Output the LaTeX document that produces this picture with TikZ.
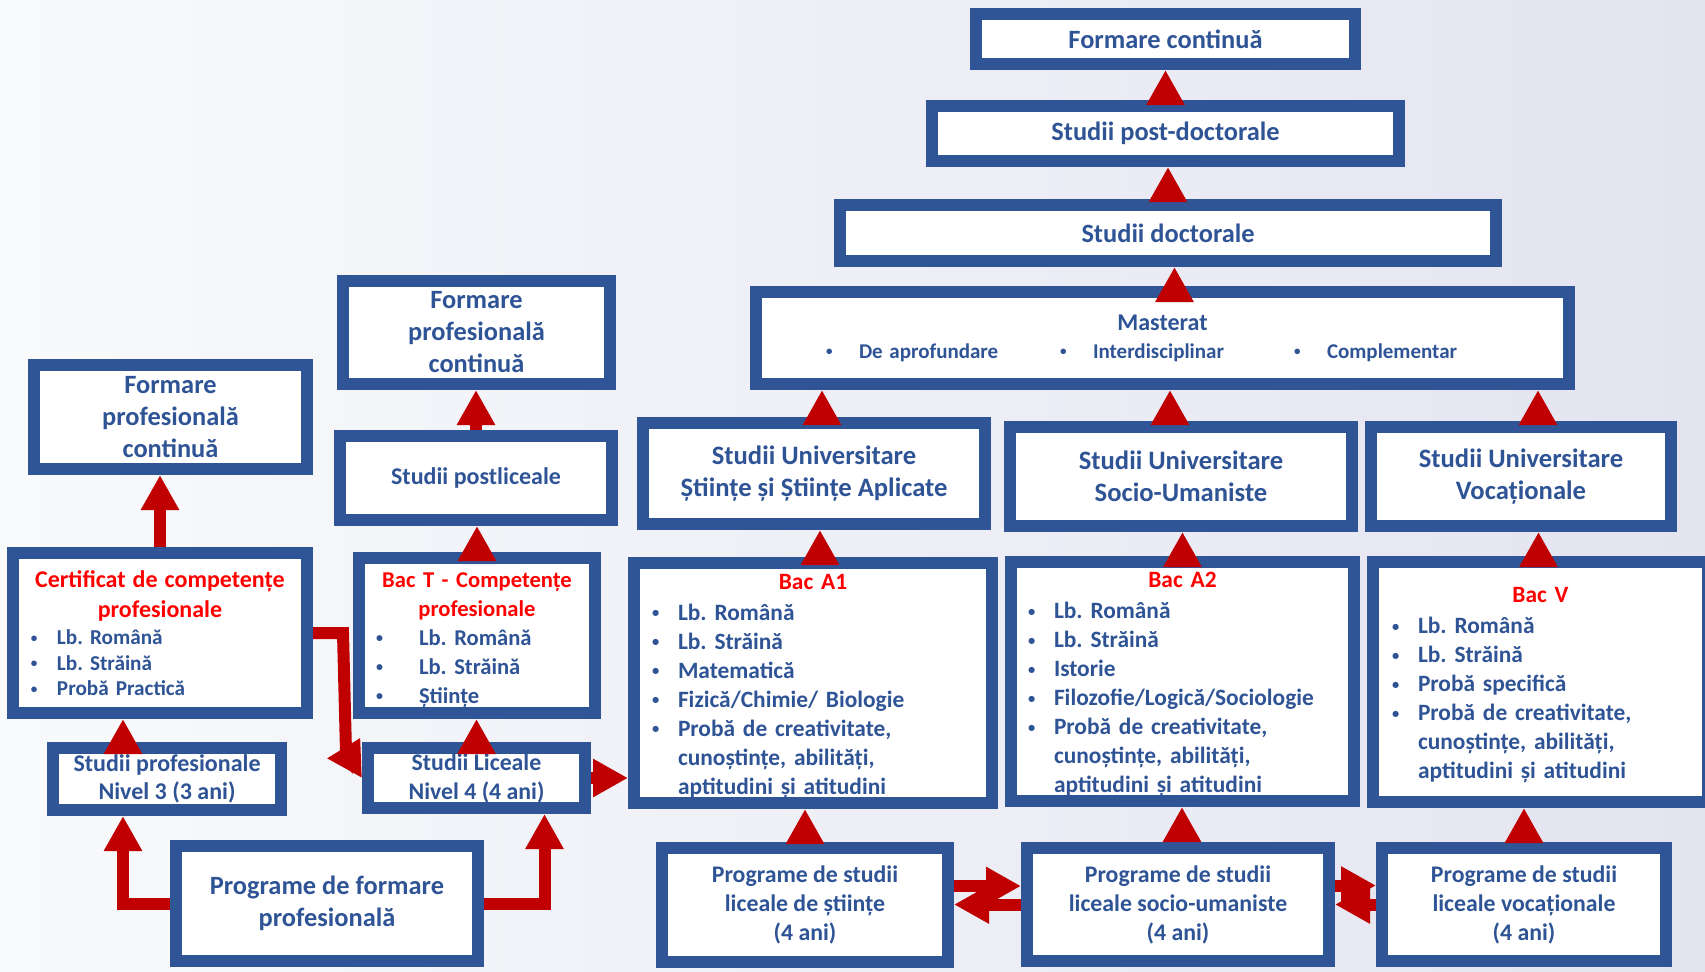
\documentclass[tikz,border=0pt]{standalone}
\usepackage{fontspec}
\usepackage{graphicx}
\setmainfont{Carlito}
\usetikzlibrary{arrows.meta,positioning}
\definecolor{bord}{HTML}{2F5597}
\definecolor{btxt}{HTML}{2F5496}
\definecolor{ared}{HTML}{C00000}
\definecolor{tred}{HTML}{FF0000}
\definecolor{bgl}{HTML}{F9FAFC}
\definecolor{bgr}{HTML}{E3E4F0}
\frenchspacing
\newcommand{\fsz}[2]{\bfseries\fontsize{#1}{#2}\selectfont}
\newcommand{\bul}[1][13pt]{\makebox[#1][l]{\raisebox{0.12em}{\scalebox{0.62}{\textbullet}}}}
\newcommand{\ind}[1][13pt]{\hspace*{#1}}
\newcommand{\ttl}[1]{\makebox[\linewidth]{\textcolor{tred}{#1}}}

\begin{document}
\begin{tikzpicture}[x=0.5pt, y=-0.5pt,
  box/.style = {draw=bord, line width=6pt, fill=white, inner sep=0pt, align=center, text=btxt},
  up/.style = {draw=ared, line width=6pt, -{Triangle[width=18pt,length=17.5pt]}}]
  \useasboundingbox (0,0) rectangle (1705,971);
  \shade[left color=bgl, right color=bgr] (0,0) rectangle (1705,971);

  % doctoral side
  \node[box, minimum width=189.5pt, minimum height=25pt, font=\fsz{13.2}{16}] (fc) at (1165.5,39) {Formare continuă};
  \node[box, minimum width=233.5pt, minimum height=27.5pt, font=\fsz{13.2}{16}] (pd) at (1165.5,133.5) {Studii post-doctorale};
  \node[box, minimum width=328pt, minimum height=28pt, font=\fsz{13.2}{16}] (d) at (1168,233) {Studii doctorale};
  \node[box, minimum width=406.5pt, minimum height=46pt, align=left, text width=336.5pt] (ma) at (1162.5,338)
    {\fsz{12}{15}\makebox[\linewidth]{Masterat}\\[2pt]
     \fsz{10.5}{15}\makebox[117pt][l]{\bul[16.5pt]De aprofundare}\makebox[117pt][l]{\bul[16.5pt]Interdisciplinar}\bul[16.5pt]Complementar};
  \node[box, minimum width=171pt, minimum height=50.5pt, font=\fsz{13.3}{16}] (u1) at (814,473.5) {Studii Universitare\\Științe și Științe Aplicate};
  \node[box, minimum width=171pt, minimum height=49.5pt, font=\fsz{13.3}{16}] (u2) at (1181,476.5) {Studii Universitare\\Socio-Umaniste};
  \node[box, minimum width=150pt, minimum height=49.5pt, font=\fsz{13.3}{16}] (u3) at (1521,476.5) {Studii Universitare\\Vocaționale};

  % bac boxes
  \node[box, minimum width=179pt, minimum height=120pt, align=left, text width=161pt, font=\fsz{11.7}{14.5}] (a1) at (813,683)
    {\ttl{\rule{0pt}{11pt}Bac A1}\\[1pt] \bul Lb. Română\\ \bul Lb. Străină\\ \bul Matematică\\ \bul Fizică/Chimie/ Biologie\\
     \bul Probă de creativitate,\\ \ind cunoștințe, abilități,\\ \ind aptitudini și atitudini};
  \node[box, minimum width=171.5pt, minimum height=119.5pt, align=left, text width=154.5pt, font=\fsz{11.7}{14.5}] (a2) at (1182.5,681.5)
    {\ttl{\rule{0pt}{11pt}Bac A2}\\[1pt] \bul Lb. Română\\ \bul Lb. Străină\\ \bul Istorie\\ \bul Filozofie/Logică/Sociologie\\
     \bul Probă de creativitate,\\ \ind cunoștințe, abilități,\\ \ind aptitudini și atitudini};
  \node[box, minimum width=167.5pt, minimum height=120pt, align=left, text width=148.5pt, font=\fsz{11.7}{14.5}] (v) at (1540.5,682)
    {\ttl{\rule{0pt}{11pt}Bac V}\\[1pt] \bul Lb. Română\\ \bul Lb. Străină\\ \bul Probă specifică\\
     \bul Probă de creativitate,\\ \ind cunoștințe, abilități,\\ \ind aptitudini și atitudini};

  % programe de studii
  \node[box, minimum width=143pt, minimum height=57pt, font=\fsz{11.9}{14.5}] (ps) at (805,905) {Programe de studii\\liceale de științe\\(4 ani)};
  \node[box, minimum width=151pt, minimum height=56.5pt, font=\fsz{11.9}{14.5}] (psu) at (1178,904.5) {Programe de studii\\liceale socio-umaniste\\(4 ani)};
  \node[box, minimum width=142pt, minimum height=56.5pt, font=\fsz{11.9}{14.5}] (pv) at (1524,904.5) {Programe de studii\\liceale vocaționale\\(4 ani)};

  % vocational side
  \node[box, minimum width=133.5pt, minimum height=51.5pt, font=\fsz{13.2}{16}] (fpc) at (476.5,332.5) {Formare\\profesională\\continuă};
  \node[box, minimum width=136pt, minimum height=42pt, font=\fsz{12}{14}] (pl) at (476,478) {Studii postliceale};
  \node[box, minimum width=118pt, minimum height=77.5pt, align=left, text width=101pt, font=\fsz{11.3}{14.5}] (bt) at (477,635.5)
    {\ttl{\rule{0pt}{12pt}Bac T - Competențe}\\ \ttl{profesionale}\\ \bul[21.5pt]Lb. Română\\ \bul[21.5pt]Lb. Străină\\ \bul[21.5pt]Științe};
  \node[box, minimum width=108.5pt, minimum height=30pt, font=\fsz{11.9}{14.5}] (lic) at (476.5,778) {Studii Liceale\\Nivel 4 (4 ani)};
  \node[box, minimum width=151pt, minimum height=57.5pt, font=\fsz{13.2}{16}] (pf) at (327,903.5) {Programe de formare\\profesională};
  \node[box, minimum width=114pt, minimum height=31pt, font=\fsz{12}{14}] (sp) at (167,779) {Studii profesionale\\Nivel 3 (3 ani)};
  \node[box, minimum width=147pt, minimum height=80pt, align=left, text width=129pt, font=\fsz{10.6}{12.75}] (cert) at (160,633)
    {\fsz{12}{14}\ttl{Certificat de competențe}\\[1.25pt] \ttl{profesionale}\\[0.75pt]
     \fsz{10.6}{12.75}\bul Lb. Română\\ \bul Lb. Străină\\ \bul Probă Practică};
  \node[box, minimum width=136.5pt, minimum height=52pt, font=\fsz{13.2}{16}] (fl) at (170.5,417) {Formare\\profesională\\continuă};

  % arrows
  \draw[up] (pd) -- (fc);
  \draw[up] (d.north) -- (d.north |- pd.south);
  \draw[up] ([xshift=6pt]ma.north) -- ([xshift=6pt]ma.north |- d.south);
  \draw[up] ([xshift=4pt]u1.north) -- ([xshift=4pt]u1.north |- ma.south);
  \draw[up] ([xshift=-5.5pt]u2.north) -- ([xshift=-5.5pt]u2.north |- ma.south);
  \draw[up] ([xshift=8.5pt]u3.north) -- ([xshift=8.5pt]u3.north |- ma.south);
  \draw[up] ([xshift=3.5pt]a1.north) -- ([xshift=3.5pt]a1.north |- u1.south);
  \draw[up] (a2.north) -- (a2.north |- u2.south);
  \draw[up] ([xshift=-1pt]v.north) -- ([xshift=-1pt]v.north |- u3.south);
  \draw[up] (ps.north) -- (ps.north |- a1.south);
  \draw[up] ([xshift=2pt]psu.north) -- ([xshift=2pt]psu.north |- a2.south);
  \draw[up] (pv.north) -- (pv.north |- v.south);
  \draw[up] ([yshift=9.5pt]ps.east) -- ([yshift=9.5pt]ps.east -| psu.west);
  \draw[up] (psu.west) -- (psu.west -| ps.east);
  \draw[up] ([yshift=9.5pt]psu.east) -- ([yshift=9.5pt]psu.east -| pv.west);
  \draw[up] (pv.west) -- (pv.west -| psu.east);
  \draw[up] (lic.east) -- (lic.east -| a1.west);
  \draw[up] (lic.north) -- (lic.north |- bt.south);
  \draw[up] (bt.north) -- (bt.north |- pl.south);
  \draw[up] (pl.north) -- (pl.north |- fpc.south);
  \draw[up] (cert.north) -- (cert.north |- fl.south);
  \draw[up] ([xshift=-22pt]sp.north) -- ([xshift=-22pt]sp.north |- cert.south);
  \draw[up] (pf.west) -| ([xshift=-22pt]sp.south);
  \draw[up] (pf.east) -| ([xshift=34pt]lic.south);
  \draw[up] (cert.east) -- ++(30,0) -- ++(3,119) -- (lic.west);
\end{tikzpicture}
\end{document}
